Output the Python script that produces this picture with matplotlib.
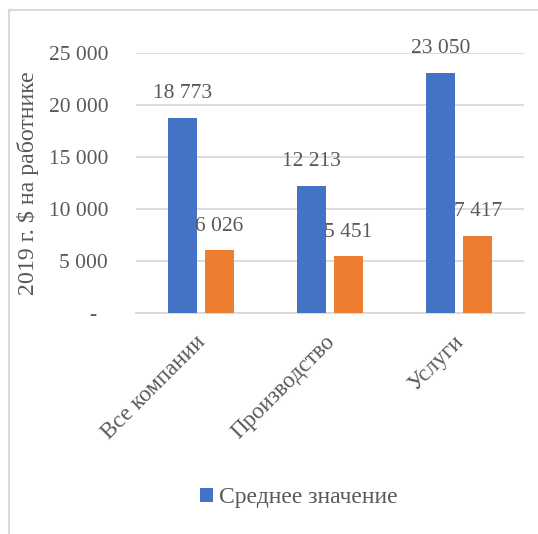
import matplotlib
matplotlib.use("Agg")
import matplotlib.pyplot as plt
from matplotlib.lines import Line2D
from matplotlib.transforms import ScaledTranslation
import numpy as np

categories = ["Все компании", "Производство", "Услуги"]
mean_values = [18773, 12213, 23050]
second_values = [6026, 5451, 7417]
y_ticks = [0, 5000, 10000, 15000, 20000, 25000]
y_tick_labels = ["-  ", "5 000", "10 000", "15 000", "20 000", "25 000"]
legend_label = "Среднее значение"
y_label = "2019 г. $ на работнике"

BLUE = "#4472C4"
ORANGE = "#ED7D31"
GRID = "#D9D9D9"
TEXT = "#595959"

plt.rcParams["font.family"] = ["Liberation Serif", "DejaVu Serif"]

W, H = 538, 534
fig = plt.figure(figsize=(W / 100, H / 100), dpi=100)
ax = fig.add_axes([136 / W, 1 - 313 / H, (524 - 136) / W, (313 - 53) / H])

x = np.arange(len(categories))
width = 0.225
offset = 0.143
b1 = ax.bar(x - offset, mean_values, width, color=BLUE, label=legend_label, zorder=3)
b2 = ax.bar(x + offset, second_values, width, color=ORANGE, zorder=3)

fmt = lambda v: f"{v:,}".replace(",", " ")
for bars, vals in ((b1, mean_values), (b2, second_values)):
    for rect, v in zip(bars, vals):
        ax.annotate(fmt(v), (rect.get_x() + rect.get_width() / 2, v),
                    xytext=(0, 17.5), textcoords="offset points",
                    ha="center", va="center", fontsize=15.5, color=TEXT, zorder=4)

ax.set_xlim(-0.5, len(categories) - 0.5)
ax.set_ylim(0, 25000)
ax.set_yticks(y_ticks)
ax.set_yticklabels(y_tick_labels)
ax.yaxis.grid(True, color=GRID, linewidth=1.3, zorder=0)
ax.tick_params(axis="y", length=0, pad=20, labelsize=15.5, labelcolor=TEXT)
ax.set_xticks(x)
ax.set_xticklabels(categories, rotation=45, ha="right", va="top",
                   rotation_mode="anchor", fontsize=16.6, color=TEXT)
ax.tick_params(axis="x", length=0, pad=13)
shift = ScaledTranslation(-6 / 100, 0, fig.dpi_scale_trans)
for lbl in ax.get_xticklabels():
    lbl.set_transform(lbl.get_transform() + shift)
for side in ("top", "right", "left"):
    ax.spines[side].set_visible(False)
ax.spines["bottom"].set_color(GRID)
ax.spines["bottom"].set_linewidth(1.3)

fig.text(28 / W, 1 - 183 / H, y_label, rotation=90, ha="center", va="center",
         fontsize=17.2, color=TEXT)

fig.legend(handles=[b1], labels=[legend_label], loc="center",
           bbox_to_anchor=(299 / W, 1 - 498 / H), frameon=False,
           fontsize=17, labelcolor=TEXT, handlelength=0.55, handleheight=0.55,
           handletextpad=0.25)

# chart-area border (left and top edges)
fig.add_artist(Line2D([9 / W, 9 / W], [0, 1 - 10 / H], transform=fig.transFigure,
                      color=GRID, linewidth=1.5))
fig.add_artist(Line2D([9 / W, 1], [1 - 10 / H, 1 - 10 / H], transform=fig.transFigure,
                      color=GRID, linewidth=1.5))

fig.savefig("out.png", dpi=100, facecolor="white")
